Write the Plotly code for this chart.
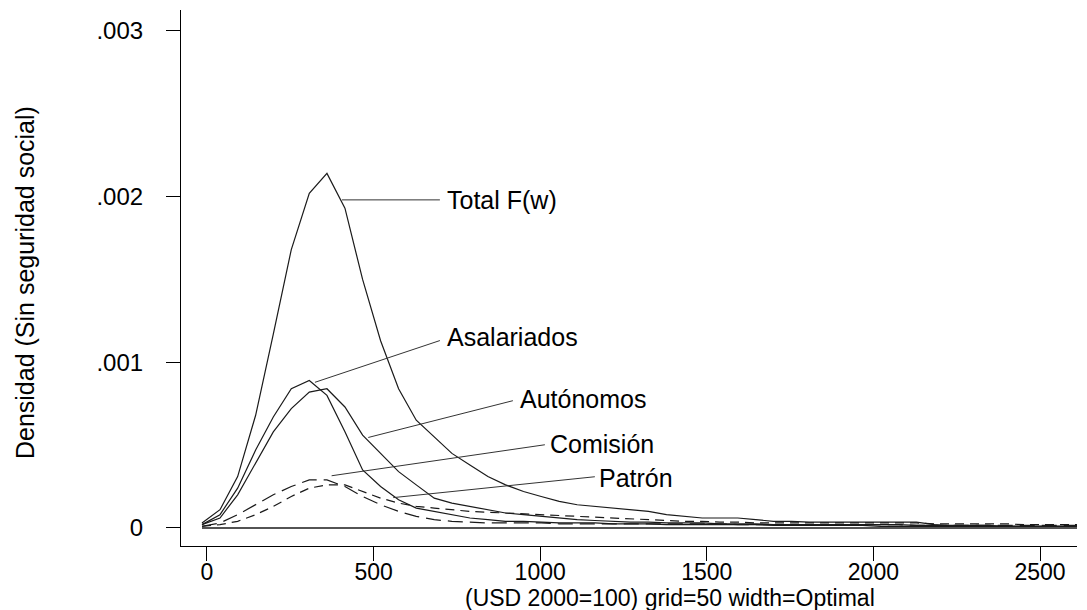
import plotly.graph_objects as go

# grid=50 evaluation points (USD 2000=100)
wage = [-15, 39, 92, 146, 199, 253, 307, 360, 414, 467,
        521, 575, 628, 682, 735, 789, 843, 896, 950, 1003,
        1057, 1111, 1164, 1218, 1271, 1325, 1379, 1432, 1486, 1539,
        1593, 1647, 1700, 1754, 1807, 1861, 1915, 1968, 2022, 2075,
        2129, 2183, 2236, 2290, 2343, 2397, 2451, 2504, 2558, 2611]

total = [0.00003, 0.00011, 0.00031, 0.00068, 0.00117, 0.00168, 0.00202, 0.00214, 0.00193, 0.00150,
         0.00113, 0.00084, 0.00065, 0.00055, 0.00045, 0.00038, 0.00031, 0.00026, 0.00022, 0.00019,
         0.00016, 0.00014, 0.00013, 0.00012, 0.00011, 0.00010, 0.00008, 0.00007, 0.00006, 0.00006,
         0.00006, 0.00005, 0.00004, 0.00004, 0.000035, 0.000035, 0.000035, 0.000035, 0.000035, 0.000035,
         0.000035, 0.00002, 0.00001, 0.00001, 0.00001, 0.00001, 0.00001, 0.00001, 0.00001, 0.00001]

asalariados = [0.00002, 0.00008, 0.00024, 0.00047, 0.00067, 0.00084, 0.00089, 0.00080, 0.00058, 0.00035,
               0.00025, 0.00017, 0.00012, 0.00010, 0.00008, 0.00006, 0.00005, 0.00004, 0.00004, 0.000035,
               0.00003, 0.00003, 0.00003, 0.000025, 0.000025, 0.000025, 0.00002, 0.00002, 0.00002, 0.00002,
               0.00002, 0.00002, 0.000015, 0.000015, 0.000015, 0.000015, 0.000015, 0.000015, 0.00001, 0.00001,
               0.00001, 0.00001, 0.00001, 0.00001, 0.00001, 0.00001, 0.00001, 0.00001, 0.00001, 0.00001]

autonomos = [0.00002, 0.00006, 0.00020, 0.00039, 0.00058, 0.00072, 0.00082, 0.00084, 0.00073, 0.00056,
             0.00045, 0.00034, 0.00026, 0.00018, 0.00015, 0.00013, 0.00011, 0.00009, 0.00008, 0.00007,
             0.00006, 0.00005, 0.000045, 0.00004, 0.000035, 0.000035, 0.00003, 0.00003, 0.00003, 0.000025,
             0.000025, 0.000025, 0.00002, 0.00002, 0.00002, 0.00002, 0.00002, 0.00002, 0.00002, 0.00002,
             0.000015, 0.000015, 0.000015, 0.000015, 0.000015, 0.00001, 0.00001, 0.00001, 0.00001, 0.00001]

comision = [0.00001, 0.00003, 0.00008, 0.00014, 0.00020, 0.00025, 0.00029, 0.00029, 0.00025, 0.00019,
            0.00014, 0.00010, 0.00007, 0.00005, 0.00004, 0.000035, 0.00003, 0.00003, 0.00003, 0.00003,
            0.000025, 0.000025, 0.000025, 0.000025, 0.000025, 0.000025, 0.000025, 0.000025, 0.000025, 0.000025,
            0.00002, 0.00002, 0.00002, 0.00002, 0.00002, 0.00002, 0.00002, 0.00002, 0.00002, 0.00002,
            0.000015, 0.000015, 0.000015, 0.000015, 0.000015, 0.000015, 0.000015, 0.000015, 0.000015, 0.000015]

patron = [0.00001, 0.00002, 0.00004, 0.00008, 0.00013, 0.00019, 0.00024, 0.00026, 0.00026, 0.00022,
          0.00018, 0.00015, 0.00013, 0.00012, 0.00011, 0.00010, 0.000095, 0.00009, 0.000085, 0.00008,
          0.000075, 0.00007, 0.000065, 0.00006, 0.000055, 0.00005, 0.000045, 0.00004, 0.00004, 0.000035,
          0.000035, 0.00003, 0.00003, 0.00003, 0.00003, 0.00003, 0.00003, 0.00003, 0.00003, 0.00003,
          0.00003, 0.000025, 0.000025, 0.000025, 0.000025, 0.000025, 0.00002, 0.00002, 0.00002, 0.00002]

series_names = ["Total F(w)", "Asalariados", "Autónomos", "Comisión", "Patrón"]
series_values = [total, asalariados, autonomos, comision, patron]
series_dash = ["solid", "solid", "solid", "15px,7px", "9px,6px"]

# label text anchors (left edge) and leader-line endpoints, in data units
label_pos = [(714, 0.00198), (714, 0.00115), (933, 0.00078), (1023, 0.000508), (1170, 0.000302)]
leader_from = [(405, 0.00198), (324, 0.000879), (484, 0.000546), (374, 0.000315), (559, 0.000183)]
leader_to = [(699, 0.00198), (699, 0.001131), (918, 0.000768), (1014, 0.000502), (1164, 0.000309)]

y_tickvals = [0, 0.001, 0.002, 0.003]
y_ticktext = ["0", ".001", ".002", ".003"]
x_tickvals = [0, 500, 1000, 1500, 2000, 2500]

FONT = "Liberation Sans, Arial, sans-serif"
INK = "#1a1a1a"

fig = go.Figure()
for name, vals, dash in zip(series_names, series_values, series_dash):
    fig.add_trace(go.Scatter(x=wage, y=vals, mode="lines", name=name,
                             line=dict(color=INK, width=1.2, dash=dash)))

# zero baseline across the evaluation grid
fig.add_shape(type="line", xref="x", yref="y", x0=wage[0], x1=wage[-1], y0=0, y1=0,
              line=dict(color=INK, width=1.5))

for (lx, ly), (fx, fy), (tx, ty), name in zip(label_pos, leader_from, leader_to, series_names):
    fig.add_shape(type="line", xref="x", yref="y", x0=fx, y0=fy, x1=tx, y1=ty,
                  line=dict(color="#333333", width=1))
    fig.add_annotation(x=lx, y=ly, xref="x", yref="y", text=name, showarrow=False,
                       xanchor="left", yanchor="middle",
                       font=dict(family=FONT, size=25, color="black"))

fig.add_annotation(text="(USD 2000=100) grid=50 width=Optimal", xref="paper", yref="paper",
                   x=0.5458, y=-0.0965, xanchor="center", yanchor="middle", showarrow=False,
                   font=dict(family=FONT, size=23, color="black"))
fig.add_annotation(text="Densidad (Sin seguridad social)", xref="paper", yref="paper",
                   x=-0.174, y=0.4907, xanchor="center", yanchor="middle", showarrow=False,
                   textangle=-90, font=dict(family=FONT, size=25, color="black"))

fig.update_layout(
    width=1087, height=610,
    margin=dict(l=181, r=10, t=10, b=64),
    paper_bgcolor="white", plot_bgcolor="white",
    showlegend=False,
    font=dict(family=FONT, size=24, color="black"),
)
fig.update_xaxes(range=[-78, 2611], tickvals=x_tickvals, ticks="outside", ticklen=14,
                 tickcolor="black", showline=True, linecolor="black", linewidth=1.2,
                 showgrid=False, zeroline=False, ticklabelstandoff=-9, tickfont=dict(size=23))
fig.update_yaxes(range=[-0.000109, 0.003126], tickvals=y_tickvals, ticktext=y_ticktext,
                 ticks="outside", ticklen=14, tickcolor="black", showline=True,
                 linecolor="black", linewidth=1.2, showgrid=False, zeroline=False,
                 ticklabelstandoff=18, tickfont=dict(size=24))

fig.write_html("out.html")
